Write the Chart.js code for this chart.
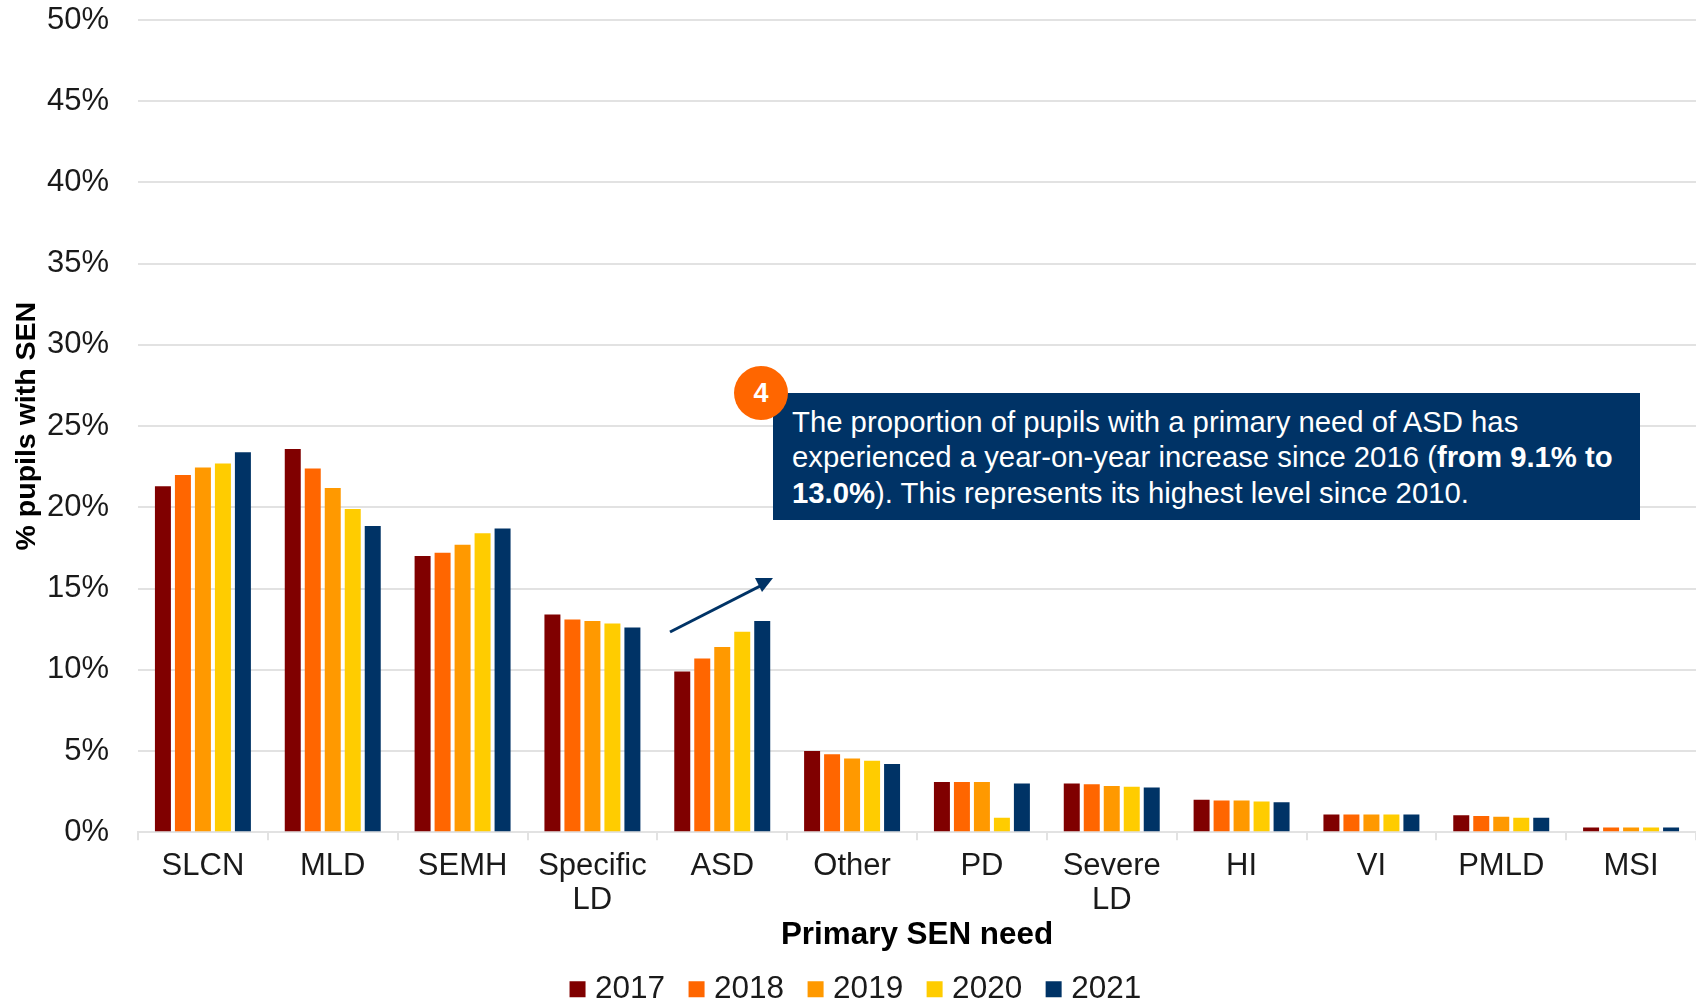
<!DOCTYPE html>
<html>
<head>
<meta charset="utf-8">
<script src="https://cdn.jsdelivr.net/npm/chart.js@4"></script>
<style>
    html, body { margin: 0; padding: 0; background: #fff; }
    #wrap { position: relative; width: 1696px; height: 1000px; overflow: hidden; }
    #callout {
        position: absolute; left: 773px; top: 393px; width: 867px; height: 127px;
        box-sizing: border-box; padding: 11px 0 0 19px;
        background: #003366; color: #fff;
        font: 29.3px/35.3px "Liberation Sans", Arial, sans-serif;
    }
    #badge {
        position: absolute; left: 734px; top: 366px; width: 54px; height: 54px; border-radius: 50%;
        background: #FF6600; color: #fff; text-align: center;
        font: bold 27px/54px "Liberation Sans", Arial, sans-serif;
    }
    #arrow { position: absolute; left: 0; top: 0; }
</style>
</head>
<body>
<div id="wrap">
    <canvas id="bar-chart-grouped" width="1696" height="1000"></canvas>
    <svg id="arrow" width="1696" height="1000">
        <line x1="670" y1="632" x2="764" y2="584" stroke="#003366" stroke-width="3"/>
        <polygon points="773,578 755,578 762,592" fill="#003366"/>
    </svg>
    <div id="callout">The proportion of pupils with a primary need of ASD has<br>experienced a year-on-year increase since 2016 (<b>from 9.1% to<br>13.0%</b>). This represents its highest level since 2010.</div>
    <div id="badge">4</div>
</div>

<script>
const categories = ["SLCN", "MLD", "SEMH", ["Specific", "LD"], "ASD", "Other", "PD", ["Severe", "LD"], "HI", "VI", "PMLD", "MSI"];
const yTickLabels = ["0%", "5%", "10%", "15%", "20%", "25%", "30%", "35%", "40%", "45%", "50%"];

const y2017 = [21.3, 23.6, 17.0, 13.4, 9.9, 5.0, 3.1, 3.0, 2.0, 1.1, 1.05, 0.3];
const y2018 = [22.0, 22.4, 17.2, 13.1, 10.7, 4.8, 3.1, 2.95, 1.95, 1.1, 1.0, 0.3];
const y2019 = [22.45, 21.2, 17.7, 13.0, 11.4, 4.55, 3.1, 2.85, 1.95, 1.1, 0.95, 0.3];
const y2020 = [22.7, 19.9, 18.4, 12.85, 12.35, 4.4, 0.9, 2.8, 1.9, 1.1, 0.9, 0.3];
const y2021 = [23.4, 18.85, 18.7, 12.6, 13.0, 4.2, 3.0, 2.75, 1.85, 1.1, 0.9, 0.3];

const FONT = '"Liberation Sans", Arial, sans-serif';
const TEXT = '#1a1a1a';
const GRID = '#e2e2e2';

function series(label, color, data) {
    return { label: label, backgroundColor: color, data: data, categoryPercentage: 0.77, barPercentage: 0.8 };
}

new Chart(document.getElementById("bar-chart-grouped"), {
    type: 'bar',
    data: {
        labels: categories,
        datasets: [
            series("2017", "#800000", y2017),
            series("2018", "#FF6600", y2018),
            series("2019", "#FF9900", y2019),
            series("2020", "#FFCC00", y2020),
            series("2021", "#003366", y2021)
        ]
    },
    options: {
        responsive: false,
        animation: false,
        layout: { padding: { left: 21, right: 0, top: 20, bottom: -15 } },
        plugins: {
            tooltip: { enabled: false },
            legend: {
                position: 'bottom',
                labels: {
                    usePointStyle: true,
                    pointStyle: 'rect',
                    boxWidth: 3.5,   // narrow slot keeps the swatch close to its label
                    boxHeight: 16,
                    padding: 29.7,
                    color: TEXT,
                    font: { family: FONT, size: 31.5 }
                }
            }
        },
        scales: {
            x: {
                afterFit: function (scale) { scale.height = 111.5; },
                border: { color: GRID, width: 2 },
                grid: { drawOnChartArea: false, drawTicks: true, tickLength: 8, color: GRID, lineWidth: 2 },
                ticks: {
                    color: TEXT, padding: 9.5, maxRotation: 0, autoSkip: false,
                    font: { family: FONT, size: 31, lineHeight: 1.08 }
                },
                title: {
                    display: true,
                    text: 'Primary SEN need',
                    color: '#000',
                    padding: { top: 0, bottom: -10.5 },
                    font: { family: FONT, size: 31.4, weight: 'bold', lineHeight: 1.2 }
                }
            },
            y: {
                min: 0,
                max: 50,
                afterFit: function (scale) {
                    scale.width = 117;
                    // tick padding otherwise leaks into the top margin
                    scale.paddingTop = 0;
                    scale.paddingBottom = 0;
                },
                border: { display: false },
                grid: { color: GRID, lineWidth: 2, drawTicks: false },
                ticks: {
                    stepSize: 5,
                    color: TEXT,
                    padding: 29,
                    font: { family: FONT, size: 31 },
                    callback: function (value, index) { return yTickLabels[index]; }
                },
                title: {
                    display: true,
                    text: '% pupils with SEN',
                    color: '#000',
                    padding: { top: -11, bottom: 0 },
                    font: { family: FONT, size: 28.5, weight: 'bold', lineHeight: 1.2 }
                }
            }
        }
    }
});
</script>
</body>
</html>
